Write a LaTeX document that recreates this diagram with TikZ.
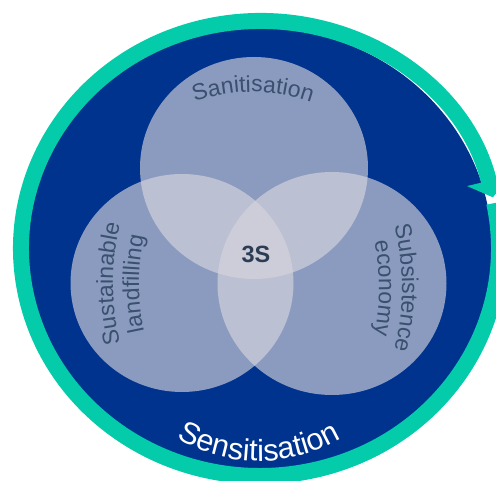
\documentclass[tikz,border=0pt]{standalone}
\usepackage{fontspec}
\setmainfont{Liberation Sans}
\usetikzlibrary{arrows.meta,decorations.text}
\definecolor{navyb}{RGB}{0,51,141}
\definecolor{ringc}{RGB}{4,203,170}
\definecolor{vennc}{RGB}{214,212,220}
\definecolor{labc}{RGB}{58,80,110}
\definecolor{ssc}{RGB}{45,60,85}
\newcommand\lblfont{\fontsize{23}{27}\selectfont}
\newcommand\senfont{\fontsize{30.5}{34}\selectfont}
\begin{document}
\begin{tikzpicture}[x=1pt,y=1pt,
  venn/.style={fill=vennc, fill opacity=0.65},
  curvlbl/.style={decorate, decoration={text along path, text align=center, text color=labc, text={|\lblfont|#1}}}]
\useasboundingbox (0,0) rectangle (496,481);
\coordinate (C) at (260,232.5);
\coordinate (topc) at (254,313);
\coordinate (leftc) at (182,198);
\coordinate (rightc) at (332,197.5);
% dark blue disc
\fill[navyb] (C) ellipse [x radius=232, y radius=220.5];
% teal circular arrow
\draw[ringc, line width=16pt, -{Triangle[length=17pt, width=44pt]}]
  (C) ++(11.5:239 and 227.5) arc[start angle=11.5, end angle=-347, x radius=239, y radius=227.5];
% venn circles
\fill[venn] (topc) ellipse [x radius=114, y radius=111];
\fill[venn] (leftc) ellipse [x radius=111.5, y radius=109];
\fill[venn] (rightc) ellipse [x radius=114.5, y radius=111.5];
% labels
\node[font=\bfseries\fontsize{23.5}{24}\selectfont, text=ssc] (core) at (256,227) {3S};
\path[curvlbl=Sanitisation] (253,214) ++(125:175) arc[start angle=125, end angle=55, radius=175];
\path[decorate, decoration={text along path, text align=center, text color=white, text={|\senfont|Sensitisation}}]
  (259,183) ++(235:163) arc[start angle=235, end angle=305, radius=163];
\path[curvlbl=Sustainable] (363,197.5) ++(200:250) arc[start angle=200, end angle=160, radius=250];
\path[curvlbl=landfilling] (363,197.5) ++(200:224) arc[start angle=200, end angle=160, radius=224];
\path[curvlbl=Subsistence] (152,193) ++(20:250) arc[start angle=20, end angle=-20, radius=250];
\path[curvlbl=economy] (152,193) ++(20:227) arc[start angle=20, end angle=-20, radius=227];
\end{tikzpicture}
\end{document}
